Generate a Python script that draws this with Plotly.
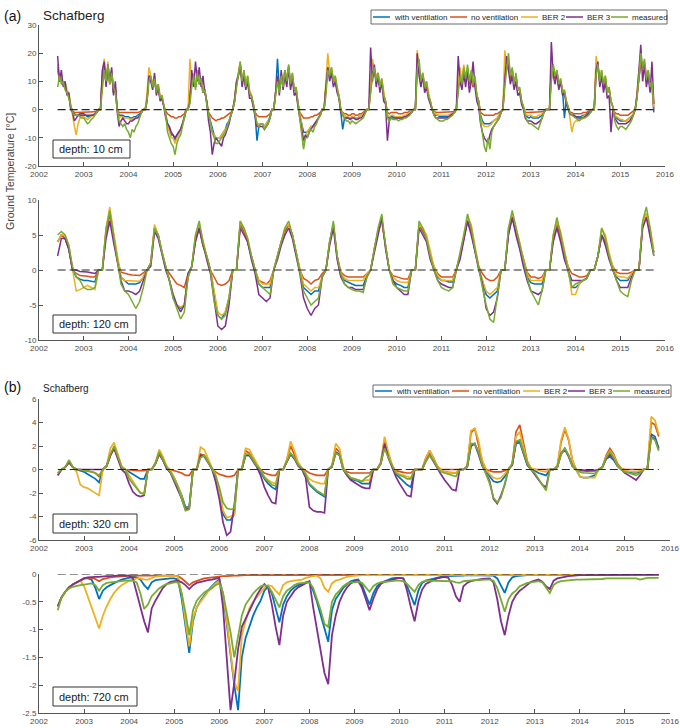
import plotly.graph_objects as go

# ------------------------------------------------------------------ data
SERIES = ["with ventilation", "no ventilation", "BER 2", "BER 3", "measured"]
COLORS = ["#0072BD", "#D95319", "#EDB120", "#7E2F8E", "#77AC30"]
YEAR_TICKS = [2002, 2003, 2004, 2005, 2006, 2007, 2008, 2009, 2010, 2011, 2012, 2013, 2014, 2015, 2016]
YEAR_LABELS = ["2002", "2003", "2004", "2005", "2006", "2007", "2008", "2009",
               "2010", "2011", "2012", "2013", "2014", "2015", "2016"]
SITE = "Schafberg"
DEPTHS = ["depth: 10 cm", "depth: 120 cm", "depth: 320 cm", "depth: 720 cm"]
Y_TITLE = "Ground Temperature [°C]"

Y1_TICKS = [-20, -10, 0, 10, 20, 30]
Y1_TEXT = ["-20", "-10", "0", "10", "20", "30"]
Y2_TICKS = [-10, -5, 0, 5, 10]
Y2_TEXT = ["-10", "-5", "0", "5", "10"]
Y3_TICKS = [-6, -4, -2, 0, 2, 4, 6]
Y3_TEXT = ["-6", "-4", "-2", "0", "2", "4", "6"]
Y4_TICKS = [-2.5, -2, -1.5, -1, -0.5, 0]
Y4_TEXT = ["-2.5", "-2", "-1.5", "-1", "-0.5", "0"]

# dates as decimal years: half-monthly (1st/16th) and monthly (1st), Jun 2002 - Oct 2015
T_HALF = [y + k / 24 for y in range(2002, 2016) for k in range(24) if (2002, 10) <= (y, k) <= (2015, 18)]
T_MON = [y + m / 12 for y in range(2002, 2016) for m in range(12) if (2002, 5) <= (y, m) <= (2015, 9)]

# ---- panel 1: 10 cm (half-monthly)
P1_VENT = [
    15, 10, 11, 9, 9, 6, 5, 1, -0.5, -1.5, -2, -2, -2, -2,
    -2, -2, -2.5, -2.5, -2, -2, -1.5, -1, 0, 0, 12, 16, 9, 15, 9, 13, 6, 7, 0, -2, -2, -2, -2.5, -2.5,
    -2.5, -3, -3, -2.5, -2.5, -2, -1.5, -1, 0, 0, 4, 12, 11, 8, 11, 6, 8, 4, 4, 1.5, -1.5, -5, -7, -9,
    -9, -11, -9, -8, -7, -5, -2.5, 0, 0, 5, 10, 12, 8, 13, 9, 11, 6, 7, 2, -1.5, -4, -7, -9, -10,
    -10, -10, -9, -8, -7, -5, -4, -2, 0, 3, 9, 12, 16, 10, 13, 8, 11, 6, 5, 2, -2, -11, -6, -5,
    -5, -6, -5, -4, -2.5, 0, 0, 6, 18, 7, 12, 8, 14, 10, 15, 9, 12, 7, 7, 2, -2, -5, -8, -8,
    -8, -7, -6, -6, -5, -4, -3, -1.5, 0, 0, 8, 15, 12, 14, 10, 11, 7, 5, -1, -7, -3, -3, -3, -3,
    -2.5, -2.5, -3, -3, -2.5, -2, -1.5, -1, 0, 0, 8, 13, 14, 10, 12, 8, 10, 5, 3, -2, -3, -2.5, -2.5, -3,
    -3, -3, -3, -3, -2.5, -2.5, -2, -1.5, -1, 0, 0, 16, 14, 10, 12, 8, 9, 5, 3, 0, -1.5, -2, -2, -2.5,
    -2.5, -2.5, -2.5, -2.5, -2, -2, -1.5, -1, 0, 8, 12, 9, 14, 10, 14, 9, 12, 8, 10, 5, 3, -2, -4, -5,
    -5, -5, -5, -4.5, -4, -3.5, -3, -2, -1, 0, 12, 15, 17, 11, 14, 9, 12, 7, 7, 3, 1, -2, -2.5, -3,
    -2.5, -3, -3, -3, -3, -2.5, -2, -1, 0, 0, 0, 13, 15, 11, 13, 8, 10, 7, -3, 3, 1, -1.5, -2, -2,
    -2.5, -2.5, -2.5, -2.5, -2, -2, -1.5, -1, -0.5, 0, 0, 14, 15, 10, 13, 8, 11, 6, 7, 3, 1, -2, -3, -3.5,
    -4, -4, -4, -4, -3.5, -3, -2.5, -1.5, 0, 5, 12, 17, 15, 16, 11, 13, 8, 9, -1,
]
P1_NOVENT = [
    15, 10, 11, 9, 9, 6, 5, 1, -0.5, -1, -1, -1, -1, -1,
    -1, -1, -1, -1, -1, -1, -0.8, -0.5, 0, 0, 12, 16, 9, 15, 9, 13, 6, 7, 0, -1, -1, -1, -1, -1,
    -1, -1.2, -1.2, -1, -1, -1, -0.8, -0.5, 0, 0, 4, 12, 11, 8, 11, 6, 8, 4, 4, 1.5, -0.5, -1.5, -2, -2.5,
    -2.5, -3, -3, -2.5, -2.5, -2, -1.5, 0, 0, 5, 10, 12, 8, 13, 9, 11, 6, 7, 2, -1, -2, -3, -3.5, -4,
    -3.5, -3.5, -3, -3, -2.5, -2, -1.5, -1, 0, 3, 9, 12, 16, 10, 13, 8, 11, 6, 5, 2, -1, -2, -2.5, -2.5,
    -2.5, -2.5, -2.5, -2, -1.5, 0, 0, 6, 11, 7, 12, 8, 14, 10, 15, 9, 12, 7, 7, 2, -1, -2, -3, -3,
    -3, -3, -2.5, -2.5, -2, -2, -1.5, -1, 0, 0, 8, 15, 12, 14, 10, 11, 7, 5, 0, -1, -1.5, -1.5, -2, -2,
    -1.5, -1.5, -2, -2, -1.5, -1.5, -1, -0.5, 0, 0, 8, 13, 14, 10, 12, 8, 10, 5, 3, -1, -1.5, -1, -1, -1,
    -1, -1.5, -1.5, -1.5, -1, -1, -1, -0.5, -0.5, 0, 0, 16, 14, 10, 12, 8, 9, 5, 3, 0, -0.5, -1, -1, -1,
    -1, -1, -1, -1, -1, -1, -0.8, -0.5, 0, 8, 12, 9, 14, 10, 14, 9, 12, 8, 10, 5, 3, -1, -1.5, -2,
    -2, -2, -2, -2, -2, -1.5, -1.5, -1, -0.5, 0, 12, 15, 17, 11, 14, 9, 12, 7, 7, 3, 1, -1, -1, -1,
    -1, -1, -1, -1, -1, -1, -0.8, -0.5, 0, 0, 0, 13, 15, 11, 13, 8, 10, 6, 6, 3, 1, -1, -1, -1.5,
    -1.5, -1.5, -1.5, -1.5, -1, -1, -1, -0.5, -0.5, 0, 0, 14, 15, 10, 13, 8, 11, 6, 7, 3, 1, -1, -1.5, -1.5,
    -2, -2, -2, -2, -2, -1.5, -1, -0.5, 0, 5, 12, 17, 15, 16, 11, 13, 8, 9, 0,
]
P1_BER2 = [
    16, 11, 12, 9, 10, 7, 6, 1, -2, -6, -9, -5, -3, -2.5,
    -2.5, -3, -3.5, -3, -2.5, -2, -1.5, -1, 0, 0, 13, 18, 10, 17, 9, 14, 7, 8, 0, -3, -2.5, -2.5, -3, -3,
    -3, -3.5, -3.5, -3, -3, -2.5, -2, -1, 0, 0, 6, 15, 12, 9, 12, 7, 9, 5, 5, 2, -2, -6, -8, -10,
    -10, -12, -10, -9, -7, -5, -3, 0, 0, 18, 10, 13, 9, 14, 9, 11, 7, 7, 2, -2, -5, -8, -9, -10,
    -10, -10, -9, -8, -7, -6, -4, -2, 0, 4, 10, 13, 17, 10, 14, 9, 12, 7, 5, 2, -2, -5, -5, -5,
    -5, -6, -5, -4, -3, 0, 0, 6, 11, 7, 13, 9, 14, 10, 16, 9, 13, 7, 8, 2, -2, -5, -13, -9,
    -8, -7, -6, -6, -5, -4, -3, -2, 0, 0, 10, 20, 13, 15, 10, 12, 8, 5, 0, -1.5, -2, -2.5, -2.5, -3,
    -2.5, -2.5, -3, -3, -2.5, -2, -1.5, -1, 0, 0, 10, 18, 14, 12, 13, 9, 11, 6, 3, -2, -2.5, -2, -2, -2.5,
    -2.5, -2.5, -2.5, -2.5, -2, -2, -1.5, -1, -0.5, 0, 0, 21, 15, 11, 13, 9, 10, 6, 3, 0, -1, -1.5, -2, -2,
    -2, -2, -2, -2, -2, -1.5, -1.5, -1, 0, 10, 15, 10, 16, 11, 15, 10, 13, 9, 11, 5, 3, -3, -5, -6,
    -6, -6, -5.5, -5, -4, -3.5, -3, -2, -1, 0, 21, 16, 18, 12, 14, 9, 12, 7, 7, 3, 1, -1.5, -2, -2,
    -2, -2.5, -2.5, -2.5, -2, -2, -1.5, -1, 0, 0, 0, 15, 16, 12, 14, 9, 11, 6, 7, 3, 1, -3, -8, -5,
    -4, -4, -3.5, -3, -2.5, -2, -2, -1.5, -1, 0, 0, 19, 15, 11, 14, 9, 12, 6, 8, 3, 1, -2, -2.5, -3,
    -3.5, -3.5, -4, -4, -3.5, -3, -2.5, -1.5, 0, 6, 14, 18, 16, 17, 12, 14, 9, 10, 1,
]
P1_BER3 = [
    19, 10, 14, 8, 10, 5, 6, 0, -1, -4, -3, -2, -1.5, -1.5,
    -1.5, -2, -2, -2, -2, -2, -1.5, -1, 0, 0, 14, 17, 8, 16, 10, 15, 5, 10, -1, -6, -4, -3, -4, -5,
    -5, -4, -4, -3.5, -3, -3, -2, -1, 0, 0, 3, 12, 10, 7, 13, 5, 8, 3, 4, 1, -3, -5, -6, -8,
    -9, -10, -9, -8, -7, -5, -3, 0, 0, 3, 14, 8, 17, 10, 15, 8, 12, 6, 3, -4, -8, -16, -12, -10,
    -11, -12, -13, -10, -9, -7, -5, -2, 0, 4, 10, 12, 16, 8, 12, 7, 10, 4, 4, 1, -3, -6, -6, -6,
    -6, -7, -6, -5, -3, 0, 0, 6, 12, 5, 14, 7, 12, 8, 15, 7, 11, 5, 6, 1, -3, -6, -11, -9,
    -10, -8, -7, -6, -5, -4, -3, -2, 0, 0, 8, 15, 10, 13, 8, 10, 6, 4, -1, -2, -3, -3, -3, -3.5,
    -3, -3, -3.5, -3.5, -3, -3, -2, -1, 0, 0, 22, 10, 16, 8, 12, 6, 10, 3, 2, -11, -4, -3, -3, -3,
    -3, -3, -3, -3, -2.5, -2.5, -2, -1.5, -1, 0, 0, 20, 12, 8, 12, 6, 8, 4, 2, 0, -2, -3, -3, -3,
    -3, -3, -3, -3, -2.5, -2, -1.5, -1, 0, 19, 10, 7, 13, 8, 14, 6, 10, 17, 8, 3, 1, -5, -8, -10,
    -11, -12, -9, -7, -6, -5, -4, -3, -1, 0, 10, 19, 14, 9, 12, 7, 10, 5, 6, 2, 0, -3, -4, -4,
    -4, -4.5, -5, -5, -4.5, -4, -3, -1, 0, 0, 0, 24, 12, 9, 13, 7, 10, 5, 6, 2, 0, -1.5, -2, -2,
    -2.5, -3, -3, -3, -3, -2.5, -2, -1.5, -1, 0, 0, 14, 17, 8, 12, 6, 10, 4, 5, -8, 0, -3, -4, -5,
    -5, -5, -5, -5, -4.5, -4, -3, -2, 0, 5, 14, 23, 10, 16, 8, 12, 6, 17, 2,
]
P1_MEAS = [
    8, 12, 9, 10, 7, 6, 4, 1, -1, -2, -2, -2, -2.5, -3,
    -3, -4, -5, -4.5, -3.5, -3, -2, -1, 0, 0, 8, 14, 10, 16, 9, 13, 8, 6, 0, -4, -5, -6, -5, -7,
    -8, -10, -7, -8, -6, -5, -3, -1, 0, 0, 3, 10, 12, 8, 11, 6, 9, 4, 5, 2, -2, -8, -10, -12,
    -13, -16, -12, -10, -9, -6, -3, 0, 0, 2, 8, 12, 7, 13, 9, 11, 6, 7, 2, -2, -5, -8, -10, -12,
    -12, -11, -10, -9, -8, -6, -4, -2, 0, 3, 8, 12, 17, 10, 14, 8, 12, 6, 5, 2, -2, -5, -6, -5,
    -5, -7, -6, -5, -3, 0, 0, 5, 10, 6, 12, 8, 14, 10, 16, 9, 13, 7, 8, 2, -3, -8, -14, -10,
    -10, -8, -7, -8, -6, -5, -3, -2, 0, 0, 5, 14, 12, 15, 10, 12, 8, 5, 0, -2, -3, -4, -4, -5,
    -4, -4.5, -5, -4.5, -4, -3.5, -3, -1.5, 0, 0, 6, 12, 15, 10, 13, 8, 11, 5, 3, -3, -4, -3, -3.5, -3.5,
    -3.5, -4, -3.5, -3.5, -3, -3, -2.5, -2, -1, 0, 0, 14, 18, 10, 13, 8, 10, 5, 3, 0, -2, -3, -3.5, -4,
    -4, -4, -3.5, -3.5, -3, -2.5, -2, -1, 0, 6, 12, 9, 15, 11, 16, 10, 14, 9, 12, 5, 3, -4, -8, -13,
    -15, -10, -14, -8, -6, -5, -4, -3, -1, 0, 8, 14, 20, 12, 15, 9, 13, 7, 8, 3, 1, -2, -4, -5,
    -5, -5.5, -6, -6.5, -7, -5, -3, -1, 0, 0, 0, 10, 16, 12, 14, 9, 11, 6, 7, 3, 1, -1, -2, -2.5,
    -3, -3.5, -4, -3.5, -3, -3, -2.5, -2, -1, 0, 0, 12, 16, 10, 14, 9, 12, 6, 8, 3, 1, -4, -6, -7,
    -6, -6, -6.5, -7, -6, -5, -4, -2, 0, 4, 12, 20, 15, 18, 11, 14, 8, 10, 2,
]

# ---- panel 2: 120 cm (monthly)
P2_VENT = [
    4, 5, 4.5, 3, 0, -1, -1.3,
    -1.5, -1.5, -1.6, -1.7, 0, 0, 5.5, 8, 5, 1.5, -1, -1.5,
    -2, -2, -2, -1.8, -1, 0, 1, 6, 5, 2.5, 0.5, -1.5,
    -4, -5, -5.5, -5, -1, 0.5, 4.5, 6, 3.5, 2, 0, -3.5,
    -6.5, -7, -6, -4, 0, 0, 6.5, 5.5, 4, 2, 0, -2,
    -2.5, -2.5, -2.5, 0, 2, 4, 5.5, 6.5, 5, 2.5, 0, -2.5,
    -3, -3.5, -3, -3, -1, 0, 4, 6.5, 2, -0.8, -1.5, -1.8,
    -2, -2.2, -2.2, -2.2, -0.8, 0, 3, 5.5, 7, 3.5, 0, -1.5,
    -2, -2.2, -2.5, -2.5, 0, 0, 6.5, 5.5, 4.5, 2, 0, -1,
    -1.5, -1.5, -1.7, -1.7, 0, 2, 4.5, 7, 5.5, 3, 0, -1.5,
    -3.5, -4, -3.5, -3, 0, 0, 5.5, 7.5, 5.5, 3, 1, -1,
    -1.8, -2, -2, -2, 0, 0, 4.5, 6.5, 4.5, 2, 0, -2.5,
    -2.5, -2, -1.5, -1.2, 0, 0, 2, 5, 4, 2, 0, -1,
    -1.5, -1.5, -1.5, -0.5, 0, 0, 6.5, 8, 5.5, 2.5,
]
P2_NOVENT = [
    4, 5, 4.5, 3, 0, -0.5, -0.8,
    -0.8, -0.9, -1, -1, 0, 0, 5.5, 8, 5, 1.5, -0.3, -0.5,
    -0.6, -0.7, -0.8, -0.8, -0.4, 0, 1, 6, 5, 2.5, 0.3, -0.5,
    -1.3, -2, -2.2, -2.5, -0.5, 0.5, 4.5, 6, 3.5, 2, 0, -1,
    -2, -2.2, -2, -1.5, 0, 0, 6.5, 5.5, 4, 2, 0, -1.5,
    -1.8, -2, -1.5, 0, 2, 4, 5.5, 6.5, 5, 2.5, 0, -1.2,
    -1.5, -2, -1.5, -1.3, -0.5, 0, 4, 6.5, 2, -0.3, -0.8, -1,
    -1, -1, -1, -1, -0.5, 0, 3, 5.5, 7, 3.5, 0, -0.8,
    -1, -1.2, -1.3, -1.3, 0, 0, 6.5, 5.5, 4.5, 2, 0.5, -0.5,
    -1, -1, -1, -1, 0, 2, 4.5, 7, 5.5, 3, 0.5, -0.5,
    -1.2, -1.5, -1.5, -1, 0, 0, 5.5, 7.5, 5.5, 3.5, 1.5, -0.3,
    -1, -1, -1.2, -1, 0, 0, 4.5, 6.5, 4.5, 2.5, 0.5, -0.5,
    -0.8, -1, -1, -0.8, 0, 0, 2, 5, 4, 2, 0.5, -0.3,
    -0.5, -0.5, -0.5, -0.3, 0, 0, 6.5, 8, 5.5, 2.5,
]
P2_BER2 = [
    4, 5, 5, 3.5, 0, -3, -2.8,
    -2.5, -2.2, -2.5, -2.8, 0, 0, 6, 9, 5.5, 2, -1, -1.5,
    -1.5, -1.5, -1.5, -1.6, -1, 0, 1, 6.5, 5, 2.5, 0.5, -1.5,
    -3.5, -5, -5.3, -5, -1, 0.5, 5, 6.5, 4, 2, 0, -3,
    -6, -6.5, -6, -4, 0, 0, 7, 6, 4.5, 2, 0, -1.5,
    -2, -2, -2, 0, 2, 4, 6, 6.5, 5, 2.5, 0, -2,
    -2.5, -3, -2.5, -2.5, -1, 0, 4, 6.5, 2, -0.5, -1.2, -1.5,
    -1.5, -1.5, -1.5, -1.5, -0.5, 0, 3, 5.5, 7, 3.5, 0, -1,
    -1.5, -1.7, -1.8, -1.8, 0, 0, 6.5, 6, 5, 2.5, 0.5, -0.8,
    -1.5, -1.5, -1.5, -1.5, 0, 2, 5, 7.5, 6.5, 3.5, 0.5, -1.5,
    -3, -3.5, -3, -2.5, 0, 0, 6, 8, 6, 4, 1.5, -0.5,
    -1.5, -1.5, -1.5, -1.5, 0, 0, 5, 7, 5.5, 3, 0.3, -3.5,
    -3.5, -2, -1.5, -1.2, 0, 0, 2, 6, 5, 2.5, 0.5, -0.8,
    -1, -1, -1.2, -0.5, 0, 0, 6.5, 8, 6, 3,
]
P2_BER3 = [
    2, 4.5, 4.5, 3, 0, 0, -0.2,
    -0.2, -0.3, -0.4, -0.5, 0, 0, 4.5, 7, 4, 1, -1.5, -3,
    -3, -3.2, -3.5, -3, -1.5, 0, 0.5, 5.5, 4.5, 2, 0, -1.5,
    -3.5, -5, -6, -5, -0.5, 0.5, 4, 6, 3.5, 1.5, -0.5, -4.5,
    -8, -8.5, -8, -5, 0, 0, 6, 5, 4, 1.5, -0.5, -3.5,
    -4, -4.5, -4, 0, 1.5, 3.5, 5, 6, 4.5, 2, -0.5, -4,
    -5.5, -6.5, -5.5, -5, -1, 0, 3.5, 6, 1.5, -1, -2, -2.5,
    -2.5, -2.8, -2.8, -2.8, -1, 0, 2.5, 5, 7.5, 3, 0, -1.5,
    -2.5, -3, -3.5, -3.5, 0, 0, 6, 5, 4, 1.5, 0, -1.5,
    -2, -2.2, -2.5, -2.5, 0, 1.5, 4, 7, 5, 2.5, 0, -2,
    -5.5, -6.5, -6, -4, 0, 0, 5, 7.5, 5, 3, 0.5, -1.5,
    -3, -3.3, -3.5, -3, 0, 0, 4, 6, 4, 1.5, 0, -1.5,
    -1.5, -1.5, -1.5, -1.2, 0, 0, 2, 5, 3.5, 1.5, 0, -1.5,
    -2.5, -2.5, -2.5, -1, 0, 0, 6, 7.5, 5, 2,
]
P2_MEAS = [
    5, 5.5, 5, 3.5, 0.5, -1, -1.5,
    -2.5, -2.8, -2.8, -2.5, 0, 0, 6, 8.5, 5, 1.5, -2, -3,
    -3.5, -4.5, -5.5, -4.5, -2.5, 0, 1, 6, 5, 2.5, 0.5, -1.5,
    -4, -5.5, -7, -6, -1, 0.5, 5, 7, 4, 2, 0, -4.5,
    -6.5, -7, -6.5, -4, 0, 0, 7, 6, 4.5, 2, 0, -2,
    -2.5, -3, -3.5, 0, 2, 4, 6, 7, 5, 2.5, 0, -3,
    -4, -5, -4.5, -4, -1, 0, 4, 7, 2, -0.5, -2, -2.5,
    -2.8, -3, -3, -3.2, -1, 0, 3, 6, 8, 3.5, 0, -2,
    -2.5, -2.8, -3, -3, 0, 0, 7, 6, 4.5, 2, 0, -1.5,
    -2.5, -2.8, -3, -2.5, 0, 2, 5, 8, 6, 3, 0, -2.5,
    -5, -7, -7.5, -4, 0, 0, 6, 8.5, 6, 3.5, 1, -1,
    -3, -4, -5, -3, 0, 0, 5, 7.5, 5, 2, 0, -2.5,
    -2, -1.8, -1.5, -1.2, 0, 0, 2, 6, 4.5, 2, 0, -1.5,
    -3, -3.5, -3.8, -1.5, 0, 0, 7, 9, 6, 2,
]

# ---- panel 3: 320 cm (monthly)
P3_VENT = [
    -0.3, 0, 0.2, 0.7, 0.2, 0, -0.1,
    -0.2, -0.4, -0.6, -0.8, -1.1, 0, 0.3, 1.2, 1.9, 1, 0.2, 0,
    -0.2, -0.4, -0.6, -0.8, -0.8, 0, 0, 0.5, 1.3, 0.8, 0.1, -0.2,
    -0.7, -1.4, -2.2, -3.2, -3.2, 0, 0, 1.3, 1.2, 0.7, 0.1, -0.6,
    -1.8, -3.8, -4.3, -4.3, -3.8, 0, 0, 1.2, 1.2, 0.8, 0.3, -0.2,
    -0.8, -1.2, -1.5, -1.7, 0, 0, 0.7, 1.3, 1, 0.4, 0.1, -0.5,
    -1.3, -1.6, -1.9, -2.1, -2.3, 0, 0.3, 1.5, 1.3, 0, -0.5, -0.8,
    -0.9, -1, -1.2, -1.2, -1.2, 0, 0, 0.5, 2, 1.1, 0.3, -0.4,
    -0.7, -1, -1.3, -1.5, 0, 0, 0, 0.8, 1.3, 0.8, 0.2, 0,
    -0.2, -0.25, -0.3, -0.3, 0, 0, 0.2, 2, 2.2, 1.5, 0.4, 0,
    -0.6, -1, -1.1, -1, -0.6, 0, 0.4, 2.2, 2.3, 1.4, 0.4, 0,
    -0.1, -0.3, -0.4, -0.5, 0, 0, 0.2, 1.4, 1.8, 1.2, 0.3, 0,
    -0.6, -0.7, -0.7, -0.6, -0.5, 0, 0.2, 0.9, 1.1, 0.8, 0.3, 0,
    -0.1, -0.2, -0.3, -0.3, -0.2, 0, 0.1, 3, 2.8, 1.8,
]
P3_NOVENT = [
    -0.5, 0, 0.2, 0.6, 0.2, 0, 0,
    -0.1, -0.15, -0.2, -0.3, -0.6, 0, 0.3, 1.2, 1.8, 1, 0.2, 0,
    0, -0.05, -0.1, -0.1, -0.1, 0, 0, 0.5, 1.3, 0.8, 0.1, 0,
    -0.1, -0.15, -0.3, -0.5, -0.5, 0, 0, 1.3, 1.2, 0.7, 0.1, -0.2,
    -0.4, -0.5, -0.6, -0.6, -0.5, 0, 0, 1.6, 1.4, 0.9, 0.3, 0,
    -0.3, -0.4, -0.5, -0.5, 0, 0, 0.8, 2, 1.3, 0.5, 0.1, -0.1,
    -0.3, -0.4, -0.5, -0.5, -0.5, 0, 0.3, 1.8, 1.5, 0.1, -0.2, -0.3,
    -0.3, -0.3, -0.3, -0.3, -0.3, 0, 0, 0.6, 2.5, 1.3, 0.3, -0.1,
    -0.2, -0.25, -0.3, -0.3, 0, 0, 0, 1, 1.6, 1, 0.3, 0,
    0, 0, -0.05, -0.05, 0, 0, 0.3, 3.1, 3.5, 2.2, 0.7, 0,
    -0.1, -0.2, -0.2, -0.2, -0.1, 0, 0.5, 3.2, 3.8, 2.2, 0.7, 0.1,
    0, 0, 0, -0.05, 0, 0, 0.3, 2.3, 3.4, 2.5, 0.8, 0,
    -0.1, -0.15, -0.15, -0.1, -0.1, 0, 0.2, 1.2, 1.8, 1.3, 0.5, 0.1,
    0, 0, 0, 0, 0, 0, 0.1, 4, 3.8, 2.8,
]
P3_BER2 = [
    -0.3, 0, 0.2, 0.8, 0.2, -0.2, -1.3,
    -1.5, -1.6, -1.8, -2, -2.2, 0, 0.3, 1.8, 2.3, 1.3, 0.3, 0,
    -0.5, -1, -1.5, -2, -2, 0, 0, 0.6, 1.7, 1.1, 0.3, -0.1,
    -0.7, -1.4, -2.3, -3.4, -3.2, 0, 0, 1.9, 1.7, 0.9, 0.2, -0.4,
    -1.8, -3.5, -4.1, -4, -3.8, 0, 0, 1.8, 1.7, 1.1, 0.5, 0,
    -0.6, -0.9, -1.1, -1.2, 0, 0, 0.9, 2.4, 1.6, 0.6, 0.1, -0.3,
    -0.8, -1, -1.1, -1.2, -1.2, 0, 0.3, 2.2, 1.8, 0.2, -0.5, -0.7,
    -0.8, -0.9, -1, -0.9, -0.9, 0, 0, 0.6, 2.8, 1.5, 0.4, -0.2,
    -0.4, -0.5, -0.6, -0.7, 0, 0, 0, 1, 1.6, 1, 0.3, 0,
    -0.2, -0.25, -0.3, -0.3, 0, 0, 0.3, 3.3, 3.5, 2.5, 0.8, 0,
    -0.4, -0.7, -0.8, -0.7, -0.4, 0, 0.5, 2.8, 3.2, 1.9, 0.6, 0.1,
    0, -0.1, -0.15, -0.2, 0, 0, 0.3, 2.5, 3.6, 2.6, 0.8, 0,
    -0.6, -0.7, -0.7, -0.7, -0.7, 0, 0.2, 1.1, 1.6, 1.2, 0.4, 0.1,
    -0.1, -0.15, -0.2, -0.2, -0.1, 0, 0.1, 4.5, 4.2, 3,
]
P3_BER3 = [
    -0.5, 0, 0.2, 0.6, 0.2, 0, 0,
    0, 0, 0, 0, 0, 0, 0.3, 1.2, 1.8, 0.8, 0, -0.3,
    -1.2, -1.9, -2.2, -2.3, -2.2, 0, 0, 0.5, 1.4, 0.8, 0.1, -0.3,
    -1, -1.7, -2.5, -3.4, -3.3, 0, 0, 1.2, 1.1, 0.6, 0.1, -1,
    -2.5, -4.5, -5.6, -5.3, -3, 0, 0, 1.2, 1.2, 0.7, 0.2, -0.5,
    -1.5, -2.2, -2.8, -2.9, 0, 0, 0.6, 1.3, 0.9, 0.3, 0, -0.7,
    -3.2, -3.5, -3.6, -3.6, -3.7, 0, 0.2, 1.4, 1.2, 0, -0.5, -0.9,
    -1.1, -1.3, -1.5, -1.6, -1.6, 0, 0, 0.5, 2.2, 1, 0.2, -0.6,
    -1.2, -1.7, -2.2, -2.3, 0, 0, 0, 0.7, 1.2, 0.7, 0.1, -0.4,
    -0.9, -1.3, -1.7, -1.8, 0, 0, 0.2, 2, 2.2, 1.3, 0.3, -0.3,
    -1, -2.5, -2.9, -2.2, -1.3, 0, 0.4, 2.3, 2.5, 1.4, 0.4, 0,
    -0.4, -0.8, -1.3, -1.5, 0, 0, 0.2, 1.3, 1.7, 1.1, 0.3, 0,
    0, -0.05, -0.1, -0.1, -0.1, 0, 0.2, 0.9, 1.3, 0.9, 0.3, 0,
    -0.3, -0.5, -0.7, -0.9, -0.5, 0, 0.1, 2.8, 2.6, 1.7,
]
P3_MEAS = [
    -0.3, 0, 0.2, 0.8, 0.2, 0, 0,
    -0.1, -0.1, -0.2, -0.3, -0.5, 0, 0.3, 1.3, 2, 1, 0.2, 0,
    -0.8, -1.2, -1.6, -2, -2.1, 0, 0, 0.5, 1.5, 0.9, 0.2, -0.2,
    -0.8, -1.5, -2.5, -3.5, -3.4, 0, 0, 1, 1.2, 0.6, 0.1, -0.5,
    -1.5, -2.8, -3.3, -3.4, -3.3, 0, 0, 1.3, 1.3, 0.8, 0.3, 0,
    -0.7, -1, -1.3, -1.4, 0, 0, 0.7, 1.4, 1, 0.4, 0.1, -0.4,
    -1.2, -1.5, -1.8, -2, -2.2, 0, 0.3, 1.4, 1.2, 0, -0.4, -0.7,
    -0.8, -0.9, -1, -0.7, -0.5, 0, 0, 0.5, 1.8, 1, 0.3, -0.3,
    -0.5, -0.6, -0.8, -0.8, 0, 0, 0, 0.7, 1.2, 0.8, 0.2, -0.2,
    -0.3, -0.4, -0.5, -0.6, 0, 0, 0.2, 2.2, 2.2, 1.5, 0.4, -0.4,
    -1.2, -2.4, -2.8, -2.4, -1.2, 0, 0.5, 2.4, 2.5, 1.5, 0.5, 0,
    -0.3, -0.8, -1.3, -1.8, 0, 0, 0.2, 1.3, 1.8, 1.2, 0.3, 0,
    -0.2, -0.3, -0.3, -0.3, -0.35, 0, 0.2, 1, 1.5, 1, 0.3, 0,
    -0.2, -0.3, -0.4, -0.5, -0.3, 0, 0.1, 2.7, 2.5, 1.6,
]

# ---- panel 4: 720 cm (monthly)
P4_VENT = [
    -0.58, -0.42, -0.32, -0.24, -0.19, -0.15, -0.11,
    -0.08, -0.08, -0.1, -0.25, -0.45, -0.3, -0.24, -0.2, -0.16, -0.13, -0.1, -0.08,
    -0.06, -0.05, -0.06, -0.1, -0.2, -0.27, -0.15, -0.11, -0.1, -0.09, -0.08, -0.08,
    -0.08, -0.1, -0.45, -0.95, -1.42, -0.85, -0.6, -0.48, -0.38, -0.3, -0.22, -0.15,
    -0.1, -0.35, -0.9, -1.5, -2.0, -2.45, -1.5, -1.15, -0.95, -0.75, -0.6, -0.48,
    -0.3, -0.22, -0.35, -0.6, -0.87, -0.55, -0.4, -0.3, -0.24, -0.2, -0.17, -0.15,
    -0.14, -0.3, -0.5, -0.75, -1.0, -1.22, -0.65, -0.45, -0.35, -0.25, -0.18, -0.13,
    -0.11, -0.1, -0.2, -0.37, -0.55, -0.35, -0.22, -0.16, -0.13, -0.1, -0.08, -0.07,
    -0.07, -0.08, -0.22, -0.4, -0.56, -0.3, -0.16, -0.12, -0.1, -0.08, -0.06, -0.05,
    -0.04, -0.04, -0.03, -0.03, -0.03, -0.03, -0.02, -0.02, -0.02, -0.02, -0.02, -0.02,
    -0.02, -0.03, -0.08, -0.2, -0.34, -0.15, -0.06, -0.04, -0.03, -0.02, -0.02, -0.02,
    -0.02, -0.02, -0.02, -0.02, -0.02, -0.02, -0.01, -0.01, -0.01, -0.01, -0.01, -0.01,
    -0.01, -0.01, -0.01, -0.01, -0.01, -0.01, -0.01, -0.01, -0.01, -0.01, -0.01, -0.01,
    -0.01, -0.01, -0.01, -0.01, -0.01, -0.01, -0.01, -0.01, -0.01, -0.01,
]
P4_NOVENT = [
    -0.58, -0.42, -0.32, -0.24, -0.19, -0.15, -0.11,
    -0.08, -0.07, -0.07, -0.09, -0.13, -0.09, -0.07, -0.06, -0.05, -0.05, -0.04, -0.04,
    -0.03, -0.03, -0.03, -0.03, -0.03, -0.03, -0.02, -0.02, -0.02, -0.02, -0.02, -0.03,
    -0.03, -0.04, -0.08, -0.14, -0.2, -0.15, -0.12, -0.1, -0.08, -0.07, -0.06, -0.05,
    -0.04, -0.04, -0.04, -0.03, -0.03, -0.03, -0.02, -0.02, -0.02, -0.02, -0.02, -0.01,
    -0.01, -0.01, -0.01, -0.01, -0.01, -0.01, -0.01, -0.01, -0.01, -0.01, -0.01, -0.01,
    -0.01, -0.01, -0.01, -0.01, -0.01, -0.01, -0.01, -0.01, -0.01, -0.01, -0.01, -0.01,
    -0.01, -0.01, -0.01, -0.01, -0.01, -0.01, -0.01, -0.01, -0.01, -0.01, -0.01, -0.01,
    -0.01, -0.01, -0.01, -0.01, -0.01, -0.01, -0.01, -0.01, -0.01, -0.01, -0.01, -0.01,
    -0.01, -0.01, -0.01, -0.01, -0.01, -0.01, -0.01, -0.01, -0.01, -0.01, -0.01, -0.01,
    -0.01, -0.01, -0.01, -0.01, -0.01, -0.01, -0.01, -0.01, -0.01, -0.01, -0.01, -0.01,
    -0.01, -0.01, -0.01, -0.01, -0.01, -0.01, -0.01, -0.01, -0.01, -0.01, -0.01, -0.01,
    -0.01, -0.01, -0.01, -0.01, -0.01, -0.01, -0.01, -0.01, -0.01, -0.01, -0.01, -0.01,
    -0.01, -0.01, -0.01, -0.01, -0.01, -0.01, -0.01, -0.01, -0.01, -0.01,
]
P4_BER2 = [
    -0.58, -0.42, -0.32, -0.24, -0.19, -0.15, -0.12,
    -0.22, -0.42, -0.62, -0.8, -0.98, -0.75, -0.58, -0.45, -0.34, -0.26, -0.2, -0.16,
    -0.12, -0.1, -0.08, -0.08, -0.1, -0.1, -0.07, -0.05, -0.04, -0.04, -0.03, -0.03,
    -0.03, -0.05, -0.35, -0.85, -1.3, -0.8, -0.6, -0.5, -0.4, -0.32, -0.24, -0.17,
    -0.12, -0.35, -0.85, -1.4, -1.95, -2.1, -1.1, -0.85, -0.62, -0.5, -0.42, -0.32,
    -0.25, -0.2, -0.22, -0.3, -0.37, -0.2, -0.15, -0.13, -0.12, -0.11, -0.1, -0.07,
    -0.05, -0.04, -0.03, -0.08, -0.25, -0.32, -0.17, -0.12, -0.1, -0.07, -0.05, -0.04,
    -0.03, -0.03, -0.02, -0.02, -0.02, -0.02, -0.02, -0.02, -0.02, -0.01, -0.01, -0.01,
    -0.01, -0.01, -0.01, -0.01, -0.01, -0.01, -0.01, -0.01, -0.01, -0.01, -0.01, -0.01,
    -0.01, -0.01, -0.01, -0.01, -0.01, -0.01, -0.01, -0.01, -0.01, -0.01, -0.01, -0.01,
    -0.01, -0.01, -0.01, -0.01, -0.01, -0.01, -0.01, -0.01, -0.01, -0.01, -0.01, -0.01,
    -0.01, -0.01, -0.01, -0.01, -0.01, -0.01, -0.01, -0.01, -0.01, -0.01, -0.01, -0.01,
    -0.01, -0.01, -0.01, -0.01, -0.01, -0.01, -0.01, -0.01, -0.01, -0.01, -0.01, -0.01,
    -0.01, -0.01, -0.01, -0.01, -0.01, -0.01, -0.01, -0.01, -0.01, -0.01,
]
P4_BER3 = [
    -0.58, -0.42, -0.32, -0.24, -0.19, -0.15, -0.11,
    -0.08, -0.06, -0.05, -0.05, -0.05, -0.04, -0.04, -0.04, -0.03, -0.03, -0.03, -0.03,
    -0.03, -0.08, -0.35, -0.6, -0.85, -1.05, -0.62, -0.48, -0.37, -0.25, -0.18, -0.14,
    -0.13, -0.12, -0.15, -0.2, -0.27, -0.2, -0.16, -0.14, -0.12, -0.11, -0.1, -0.08,
    -0.07, -0.6, -1.5, -2.45, -1.95, -1.35, -0.95, -0.8, -0.68, -0.52, -0.38, -0.27,
    -0.18, -0.25, -0.55, -0.95, -1.28, -0.75, -0.5, -0.4, -0.3, -0.24, -0.2, -0.17,
    -0.13, -0.6, -1.0, -1.4, -1.78, -1.98, -1.1, -0.75, -0.5, -0.35, -0.24, -0.17,
    -0.13, -0.13, -0.25, -0.45, -0.65, -0.45, -0.28, -0.18, -0.14, -0.12, -0.1, -0.08,
    -0.07, -0.08, -0.3, -0.6, -0.85, -0.5, -0.28, -0.18, -0.14, -0.11, -0.08, -0.06,
    -0.05, -0.07, -0.2, -0.4, -0.5, -0.22, -0.16, -0.13, -0.11, -0.1, -0.09, -0.08,
    -0.08, -0.15, -0.45, -0.85, -1.1, -0.75, -0.5, -0.38, -0.3, -0.25, -0.2, -0.14,
    -0.12, -0.1, -0.14, -0.22, -0.27, -0.12, -0.08, -0.06, -0.05, -0.04, -0.03, -0.03,
    -0.02, -0.02, -0.02, -0.02, -0.02, -0.02, -0.01, -0.01, -0.01, -0.01, -0.01, -0.01,
    -0.01, -0.01, -0.01, -0.01, -0.01, -0.01, -0.01, -0.01, -0.01, -0.01,
]
P4_MEAS = [
    -0.65, -0.42, -0.32, -0.26, -0.23, -0.21, -0.2,
    -0.19, -0.18, -0.17, -0.2, -0.3, -0.2, -0.16, -0.15, -0.14, -0.13, -0.12, -0.12,
    -0.12, -0.12, -0.15, -0.35, -0.63, -0.55, -0.4, -0.32, -0.26, -0.21, -0.18, -0.17,
    -0.15, -0.15, -0.35, -0.7, -1.1, -0.65, -0.48, -0.4, -0.33, -0.29, -0.26, -0.2,
    -0.17, -0.35, -0.7, -1.05, -1.5, -1.1, -0.75, -0.55, -0.45, -0.35, -0.28, -0.22,
    -0.2, -0.22, -0.32, -0.45, -0.6, -0.4, -0.3, -0.25, -0.2, -0.17, -0.16, -0.15,
    -0.15, -0.25, -0.45, -0.65, -0.9, -0.95, -0.5, -0.37, -0.3, -0.22, -0.17, -0.15,
    -0.15, -0.14, -0.16, -0.24, -0.32, -0.22, -0.17, -0.15, -0.14, -0.13, -0.13, -0.12,
    -0.12, -0.13, -0.18, -0.25, -0.32, -0.2, -0.14, -0.12, -0.12, -0.12, -0.12, -0.12,
    -0.12, -0.12, -0.13, -0.15, -0.16, -0.13, -0.12, -0.11, -0.11, -0.11, -0.1, -0.1,
    -0.1, -0.12, -0.25, -0.48, -0.68, -0.45, -0.35, -0.3, -0.22, -0.19, -0.16, -0.15,
    -0.14, -0.13, -0.15, -0.25, -0.34, -0.2, -0.15, -0.13, -0.12, -0.11, -0.1, -0.1,
    -0.1, -0.1, -0.09, -0.09, -0.09, -0.09, -0.09, -0.08, -0.08, -0.08, -0.08, -0.08,
    -0.07, -0.07, -0.07, -0.08, -0.1, -0.08, -0.07, -0.07, -0.07, -0.07,
]

# ------------------------------------------------------------------ figure
W, H = 680, 728
FONT = "Liberation Sans, Arial, Helvetica, sans-serif"
AXC = "#555555"
TXC = "#4a4a4a"


def fx(p):
    return p / W


def fy(p):
    return 1 - p / H


PANELS = [
    dict(t=T_HALF, data=[P1_VENT, P1_NOVENT, P1_BER2, P1_BER3, P1_MEAS], yr=[-20, 30],
         yt=Y1_TICKS, ytt=Y1_TEXT, x0=39, x1=665, top=25, bot=166, lw=1.5, box=(53, 140, 130, 158)),
    dict(t=T_MON, data=[P2_VENT, P2_NOVENT, P2_BER2, P2_BER3, P2_MEAS], yr=[-10, 10],
         yt=Y2_TICKS, ytt=Y2_TEXT, x0=39, x1=665, top=200, bot=340, lw=1.5, box=(53, 315, 136, 333)),
    dict(t=T_MON, data=[P3_VENT, P3_NOVENT, P3_BER2, P3_BER3, P3_MEAS], yr=[-6, 6],
         yt=Y3_TICKS, ytt=Y3_TEXT, x0=39, x1=670, top=399, bot=540, lw=1.7, box=(53, 514, 137, 533)),
    dict(t=T_MON, data=[P4_VENT, P4_NOVENT, P4_BER2, P4_BER3, P4_MEAS], yr=[-2.5, 0],
         yt=Y4_TICKS, ytt=Y4_TEXT, x0=39, x1=670, top=574, bot=713, lw=1.8, box=(53, 687, 137, 706)),
]

fig = go.Figure()
layout = dict(width=W, height=H, margin=dict(l=0, r=0, t=0, b=0), showlegend=False,
              paper_bgcolor="white", plot_bgcolor="white", font=dict(family=FONT))
shapes = []
annotations = []

for i, p in enumerate(PANELS):
    n = i + 1
    xa = "x" if n == 1 else f"x{n}"
    ya = "y" if n == 1 else f"y{n}"
    for vals, name, col in zip(p["data"], SERIES, COLORS):
        if len(vals) != len(p["t"]):
            raise ValueError(f"panel {n} {name}: {len(vals)} values vs {len(p['t'])} dates")
        fig.add_trace(go.Scatter(x=p["t"], y=vals, mode="lines", name=name,
                                 line=dict(color=col, width=p["lw"]),
                                 xaxis=xa, yaxis=ya, hoverinfo="skip"))
    fig.add_trace(go.Scatter(x=[p["t"][0], p["t"][-1]], y=[0, 0], mode="lines",
                             line=dict(color="#262626", width=1.2, dash="8px,4px"),
                             xaxis=xa, yaxis=ya, hoverinfo="skip"))
    xkey = "xaxis" if n == 1 else f"xaxis{n}"
    ykey = "yaxis" if n == 1 else f"yaxis{n}"
    layout[xkey] = dict(domain=[fx(p["x0"]), fx(p["x1"])], anchor=ya, range=[2002, 2016],
                        tickvals=YEAR_TICKS, ticktext=YEAR_LABELS, ticks="inside", ticklen=4,
                        tickwidth=1, tickcolor=AXC, showline=True, linecolor=AXC, linewidth=1,
                        showgrid=False, zeroline=False, automargin=False,
                        tickfont=dict(size=8, color=TXC, family=FONT))
    layout[ykey] = dict(domain=[fy(p["bot"]), fy(p["top"])], anchor=xa, range=p["yr"],
                        tickvals=p["yt"], ticktext=p["ytt"], ticks="inside", ticklen=4,
                        tickwidth=1, tickcolor=AXC, showline=True, linecolor=AXC, linewidth=1,
                        showgrid=False, zeroline=False, automargin=False,
                        tickfont=dict(size=8, color=TXC, family=FONT))
    bx0, by0, bx1, by1 = p["box"]
    shapes.append(dict(type="rect", xref="paper", yref="paper", x0=fx(bx0), x1=fx(bx1),
                       y0=fy(by1), y1=fy(by0), line=dict(color="#333333", width=1),
                       fillcolor="white", layer="above"))
    annotations.append(dict(text=DEPTHS[i], xref="paper", yref="paper", x=fx(bx0 + 4),
                            y=fy((by0 + by1) / 2), xanchor="left", yanchor="middle",
                            showarrow=False, font=dict(size=11, color="#1a1a1a", family=FONT)))

# legends (drawn compactly like the original)
LEG_OFFS = [2, 79, 150, 195, 240]


def add_legend(left, right, top, bottom):
    shapes.append(dict(type="rect", xref="paper", yref="paper", x0=fx(left), x1=fx(right),
                       y0=fy(bottom), y1=fy(top), line=dict(color="#444444", width=0.8),
                       fillcolor="white", layer="above"))
    yc = (top + bottom) / 2
    for off, name, col in zip(LEG_OFFS, SERIES, COLORS):
        x0 = left + off
        shapes.append(dict(type="line", xref="paper", yref="paper", x0=fx(x0), x1=fx(x0 + 17),
                           y0=fy(yc), y1=fy(yc), line=dict(color=col, width=1.5), layer="above"))
        annotations.append(dict(text=name, xref="paper", yref="paper", x=fx(x0 + 19), y=fy(yc),
                                xanchor="left", yanchor="middle", showarrow=False,
                                font=dict(size=8, color="#262626", family=FONT)))


add_legend(371, 667, 10, 24)
add_legend(373, 671, 385, 397)

# titles and labels
annotations += [
    dict(text="(a)", xref="paper", yref="paper", x=fx(2), y=fy(16), xanchor="left", yanchor="middle",
         showarrow=False, font=dict(size=14, color="#111111", family=FONT)),
    dict(text=SITE, xref="paper", yref="paper", x=fx(41), y=fy(15), xanchor="left", yanchor="middle",
         showarrow=False, font=dict(size=13.5, color="#222222", family=FONT)),
    dict(text="(b)", xref="paper", yref="paper", x=fx(2), y=fy(387), xanchor="left", yanchor="middle",
         showarrow=False, font=dict(size=14, color="#111111", family=FONT)),
    dict(text=SITE, xref="paper", yref="paper", x=fx(41), y=fy(388), xanchor="left", yanchor="middle",
         showarrow=False, font=dict(size=10, color="#222222", family=FONT)),
    dict(text=Y_TITLE, xref="paper", yref="paper", x=fx(10), y=fy(172), xanchor="center",
         yanchor="middle", textangle=-90, showarrow=False,
         font=dict(size=10.5, color="#444444", family=FONT)),
]

layout["shapes"] = shapes
layout["annotations"] = annotations
fig.update_layout(**layout)
fig.write_html("out.html", config={"displayModeBar": False})
